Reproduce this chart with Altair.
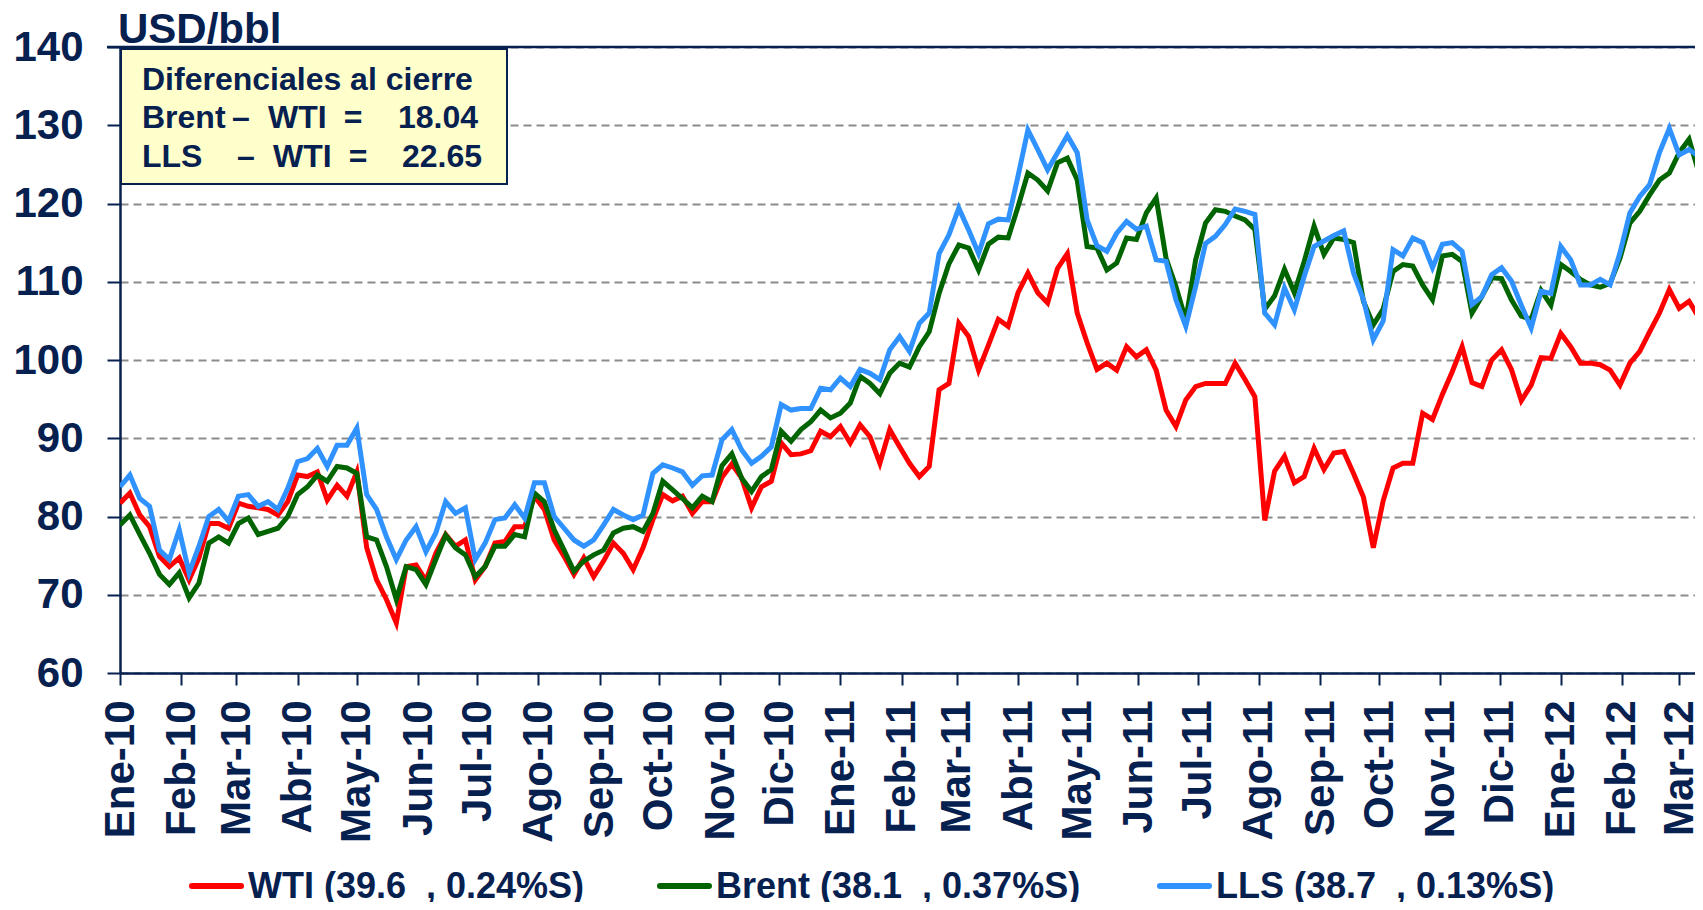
import altair as alt
import pandas as pd

NAVY = "#06204f"
FONT = "Liberation Sans"

# sample dates every 5 days from 2010-01-01 (x categories)
dates = pd.date_range("2010-01-01", periods=161, freq="5D").strftime("%Y-%m-%d").tolist()

wti = [81.7, 83.0, 80.2, 78.7, 74.9, 73.6, 74.7, 71.9, 74.7, 79.1,
       79.1, 78.5, 81.7, 81.3, 81.1, 80.9, 80.2, 81.9, 85.3, 85.1,
       85.7, 82.1, 84.0, 82.6, 85.7, 76.0, 71.9, 69.4, 66.4, 73.6,
       73.8, 71.8, 75.3, 77.7, 76.2, 77.0, 71.9, 73.6, 76.6, 76.8,
       78.7, 78.7, 82.6, 80.9, 77.0, 74.9, 72.6, 74.7, 72.3, 74.3,
       76.6, 75.3, 73.2, 76.0, 79.6, 82.8, 82.0, 82.6, 80.4, 81.9,
       81.9, 85.0, 86.7, 84.9, 81.1, 83.8, 84.5, 89.4, 87.9, 88.0,
       88.4, 90.9, 90.2, 91.5, 89.4, 91.7, 90.2, 86.8, 91.1, 88.9,
       86.8, 85.1, 86.4, 96.2, 97.0, 104.7, 103.0, 98.7, 101.9, 105.2,
       104.3, 108.6, 111.1, 108.6, 107.3, 111.7, 113.6, 106.0, 102.2, 98.8,
       99.6, 98.7, 101.7, 100.4, 101.3, 98.7, 93.6, 91.5, 94.9, 96.6,
       97.0, 97.0, 97.0, 99.6, 97.5, 95.3, 79.5, 85.8, 87.7, 84.3,
       85.1, 88.7, 86.0, 88.1, 88.3, 85.5, 82.5, 76.0, 82.0, 86.2,
       86.8, 86.8, 93.2, 92.4, 95.6, 98.5, 101.7, 97.1, 96.6, 100.0,
       101.3, 98.8, 94.8, 96.8, 100.3, 100.2, 103.4, 101.7, 99.6, 99.6,
       99.4, 98.7, 96.8, 99.6, 101.1, 103.6, 106.0, 109.0, 106.6, 107.5,
       105.4]

brent = [78.9, 80.2, 77.7, 75.3, 72.6, 71.3, 72.8, 69.6, 71.5, 76.6,
         77.4, 76.6, 79.1, 79.8, 77.7, 78.1, 78.5, 80.0, 82.8, 83.8,
         85.3, 84.5, 86.4, 86.2, 85.5, 77.4, 77.0, 73.6, 69.4, 73.6,
         73.2, 71.3, 74.5, 77.6, 76.0, 75.1, 72.3, 73.6, 76.2, 76.2,
         77.7, 77.4, 83.0, 81.9, 78.3, 75.7, 73.0, 74.3, 75.1, 75.7,
         77.9, 78.5, 78.7, 78.1, 80.4, 84.5, 83.4, 82.3, 81.1, 82.6,
         81.9, 86.5, 88.0, 84.9, 83.2, 85.1, 86.0, 90.9, 89.6, 91.1,
         92.1, 93.6, 92.6, 93.2, 94.5, 97.9, 97.0, 95.7, 98.3, 99.6,
         99.1, 101.7, 103.6, 108.5, 112.3, 114.7, 114.3, 111.5, 114.8, 115.7,
         115.6, 119.6, 123.9, 123.0, 121.6, 125.2, 125.8, 123.0, 114.5, 114.3,
         111.5, 112.4, 115.6, 115.4, 118.8, 120.7, 113.0, 109.4, 105.1, 112.8,
         117.5, 119.2, 119.0, 118.4, 117.9, 116.7, 106.5, 108.2, 111.6, 108.6,
         112.6, 117.1, 113.5, 115.6, 115.4, 115.0, 107.5, 104.5, 106.5, 111.3,
         112.2, 112.0, 109.6, 107.7, 113.3, 113.5, 112.6, 106.0, 108.1, 110.5,
         110.4, 107.7, 105.6, 105.2, 108.9, 107.0, 112.2, 111.3, 110.3, 109.6,
         109.3, 109.8, 113.0, 117.5, 119.0, 121.1, 123.0, 123.9, 126.5, 128.2,
         123.9]

lls = [83.8, 85.3, 82.3, 81.3, 75.7, 74.5, 78.3, 72.8, 76.2, 80.0,
       80.9, 79.4, 82.6, 82.8, 81.3, 81.9, 80.9, 83.6, 87.0, 87.4,
       88.7, 86.4, 89.1, 89.1, 91.3, 82.8, 80.9, 77.4, 74.5, 77.0,
       78.7, 75.5, 77.9, 81.9, 80.4, 81.1, 74.5, 76.6, 79.6, 79.8,
       81.5, 79.8, 84.3, 84.3, 80.0, 78.5, 77.0, 76.2, 77.0, 78.9,
       80.9, 80.2, 79.6, 80.2, 85.5, 86.6, 86.2, 85.7, 84.0, 85.2,
       85.3, 89.8, 91.1, 88.5, 86.8, 87.7, 88.9, 94.3, 93.6, 93.8,
       93.8, 96.4, 96.2, 97.7, 96.6, 98.8, 98.3, 97.5, 101.3, 103.0,
       101.1, 104.7, 106.0, 113.6, 116.0, 119.4, 116.6, 113.6, 117.4, 118.0,
       117.9, 123.5, 129.4, 126.9, 124.3, 126.5, 128.7, 126.5, 117.9, 114.6,
       113.9, 116.2, 117.7, 116.7, 117.1, 112.8, 112.6, 107.7, 104.3, 109.4,
       114.9, 115.8, 117.3, 119.3, 119.0, 118.6, 106.0, 104.5, 109.2, 106.4,
       110.7, 114.5, 115.2, 115.9, 116.5, 111.1, 107.7, 102.6, 105.0, 114.1,
       113.3, 115.6, 115.0, 111.8, 114.8, 115.0, 113.9, 107.1, 108.1, 110.9,
       111.8, 110.1, 107.0, 104.1, 108.8, 108.5, 114.5, 112.8, 109.6, 109.6,
       110.3, 109.6, 113.7, 118.8, 120.9, 122.4, 126.5, 129.6, 126.2, 126.9,
       126.0]

series_names = ["WTI (39.6\u00a0\u00a0, 0.24%S)",
                "Brent (38.1\u00a0\u00a0, 0.37%S)",
                "LLS (38.7\u00a0\u00a0, 0.13%S)"]
series_colors = ["#ff0000", "#006400", "#3092ff"]

y_ticks = [60, 70, 80, 90, 100, 110, 120, 130, 140]
month_names = ["Ene", "Feb", "Mar", "Abr", "May", "Jun", "Jul", "Ago", "Sep", "Oct", "Nov", "Dic"]
tick_months = [(y, m) for y in (2010, 2011, 2012) for m in range(1, 13) if not (y == 2012 and m > 3)]

rows = []
for i, (name, vals) in enumerate(zip(series_names, [wti, brent, lls])):
    for d, v in zip(dates, vals):
        rows.append({"fecha": d, "precio": v, "serie": name, "idx": i})
df = pd.DataFrame(rows)

x_enc = alt.X(
    "fecha:T",
    scale=alt.Scale(type="utc", domain=[alt.DateTime(year=2010, month=1, date=1, utc=True),
                                        alt.DateTime(year=2012, month=3, date=9, utc=True)]),
    axis=alt.Axis(
        values=[alt.DateTime(year=y, month=m, date=1, utc=True) for y, m in tick_months],
        labelExpr="['" + "','".join(month_names) + "'][utcmonth(datum.value)] + '-' + utcFormat(datum.value, '%y')",
        labelAngle=-90, labelFontSize=42, labelFont=FONT, labelFontWeight="bold",
        labelColor=NAVY, labelPadding=15, tickSize=12, tickColor=NAVY, tickWidth=2,
        domainColor=NAVY, domainWidth=2.5, grid=False, title=None, labelOverlap=False,
        labelBound=False, labelFlush=False,
    ),
)
y_enc = alt.Y(
    "precio:Q",
    scale=alt.Scale(domain=[60, 140], nice=False, zero=False),
    axis=alt.Axis(
        values=y_ticks, labelFontSize=42, labelFont=FONT, labelFontWeight="bold",
        labelColor=NAVY, labelPadding=24, tickSize=13, tickColor=NAVY, tickWidth=2,
        domainColor=NAVY, domainWidth=2.5, gridColor="#8c8c8c", gridDash=[8, 5],
        gridWidth=2, title=None,
    ),
)

lines = alt.Chart(df).mark_line(strokeWidth=5, clip=True).encode(
    x=x_enc,
    y=y_enc,
    color=alt.Color(
        "serie:N",
        scale=alt.Scale(domain=series_names, range=series_colors),
        legend=None,
    ),
    order=alt.Order("idx:Q"),
)

top_rule = alt.Chart(pd.DataFrame({"a": [0]})).mark_rule(color=NAVY, strokeWidth=2.5).encode(
    y=alt.value(0), x=alt.value(-13), x2=alt.value(1575),
)

box = alt.Chart(pd.DataFrame({"a": [0]})).mark_rect(
    fill="#ffffcc", stroke=NAVY, strokeWidth=2
).encode(x=alt.value(1), x2=alt.value(387), y=alt.value(2), y2=alt.value(137))

def txt(text, x, y, size, align="left", color=NAVY):
    return alt.Chart(pd.DataFrame({"t": [text]})).mark_text(
        font=FONT, fontWeight="bold", fontSize=size, color=color, align=align,
        baseline="alphabetic",
    ).encode(text="t:N", x=alt.value(x), y=alt.value(y))

texts = [
    txt("USD/bbl", -2, -4, 42),
    txt("Diferenciales al cierre", 22, 43, 32),
    txt("Brent", 22, 81, 32),
    txt("–", 121, 81, 32, "center"),
    txt("WTI", 148, 81, 32),
    txt("=", 233, 81, 32, "center"),
    txt("18.04", 358, 81, 32, "right"),
    txt("LLS", 22, 120, 32),
    txt("–", 126, 120, 32, "center"),
    txt("WTI", 153, 120, 32),
    txt("=", 238, 120, 32, "center"),
    txt("22.65", 362, 120, 32, "right"),
]

# bottom legend (manual): symbol start and text start, relative to plot area
legend_sym_x = [69, 537, 1037]
legend_layers = []
for name, col, sx in zip(series_names, series_colors, legend_sym_x):
    legend_layers.append(
        alt.Chart(pd.DataFrame({"a": [0]})).mark_rule(color=col, strokeWidth=6, strokeCap="round").encode(
            x=alt.value(sx + 3), x2=alt.value(sx + 52), y=alt.value(839)
        )
    )
    legend_layers.append(txt(name, sx + 59, 851, 36))

chart = alt.layer(lines, top_rule, box, *texts, *legend_layers).properties(
    width=1575, height=626,
    autosize=alt.AutoSizeParams(type="none"),
    padding={"left": 112, "top": 39, "right": 0, "bottom": 229},
).configure_view(strokeWidth=0).configure(background="white")

chart.save("out.html", embed_options={"renderer": "svg", "actions": False})
